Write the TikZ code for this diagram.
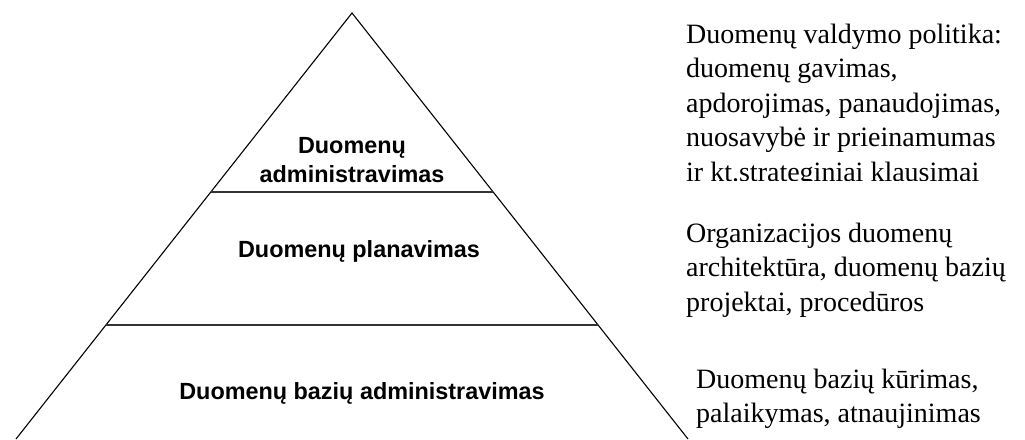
\documentclass[tikz,border=0pt]{standalone}
\usepackage{fontspec}
\setmainfont{Liberation Serif}
\newfontfamily\labelsans{Liberation Sans}
\newcommand\leftstack[1]{\vtop{\baselineskip=34.5pt\halign{##\hfil\cr#1\crcr}}}
\newcommand\midstack[1]{\vtop{\baselineskip=29pt\halign{\hfil##\hfil\cr#1\crcr}}}
\begin{document}
\begin{tikzpicture}[x=1pt,y=-1pt,
  edge/.style={line width=1.1pt,black},
  level/.style={line width=1.8pt,black!80},
  tier/.style={inner sep=0pt,anchor=base,font=\labelsans\bfseries\fontsize{23.4}{29}\selectfont},
  note/.style={inner sep=0pt,anchor=base west,font=\fontsize{28}{34.5}\selectfont}]
\useasboundingbox (0,0) rectangle (1025,439);
% pyramid
\coordinate (apex) at (352,13);
\coordinate (bl) at (16,439);
\coordinate (br) at (688,439);
\coordinate (l1) at (211,192);
\coordinate (r1) at (493,192);
\coordinate (l2) at (106,325);
\coordinate (r2) at (598,325);
\draw[edge] (bl) -- (apex) -- (br);
\draw[level] (l1) -- (r1);
\draw[level,line width=1.4pt] (l2) -- (r2);
% tier labels
\node[tier] (t1) at (352,153) {\midstack{Duomenų\cr administravimas}};
\node[tier] (t2) at (359,257) {Duomenų planavimas};
\node[tier] (t3) at (362,399) {Duomenų bazių administravimas};
% notes
\begin{scope}
\clip (600,0) rectangle (1025,180);
\node[note] (n1) at (686,43) {\leftstack{Duomenų valdymo politika:\cr duomenų gavimas,\cr apdorojimas, panaudojimas,\cr nuosavybė ir prieinamumas\cr ir kt.strateginiai klausimai}};
\end{scope}
\node[note] (n2) at (686,242) {\leftstack{Organizacijos duomenų\cr architektūra, duomenų bazių\cr projektai, procedūros}};
\node[note] (n3) at (696,388) {\leftstack{Duomenų bazių kūrimas,\cr palaikymas, atnaujinimas}};
\end{tikzpicture}
\end{document}
